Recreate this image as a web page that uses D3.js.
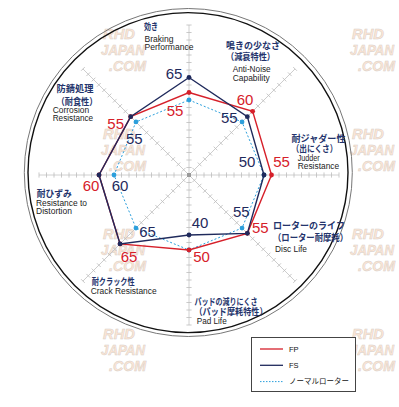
<!DOCTYPE html>
<html>
<head>
<meta charset="utf-8">
<script src="https://cdn.jsdelivr.net/npm/d3@7"></script>
<style>
  html, body { margin: 0; padding: 0; background: #fff; }
  svg { display: block; }
</style>
</head>
<body>
<div id="chart"></div>
<script>
// axes, clockwise from the top
var axisJa = [
  ["効き"],
  ["鳴きの少なさ", "（減衰特性）"],
  ["耐ジャダー性", "（出にくさ）"],
  ["ローターのライフ", "（ローター耐摩耗）"],
  ["パッドの減りにくさ", "（パッド摩耗特性）"],
  ["耐クラック性"],
  ["耐ひずみ"],
  ["防錆処理", "（耐食性）"]
];
var axisEn = [
  ["Braking", "Performance"],
  ["Anti-Noise", "Capability"],
  ["Judder", "Resistance"],
  ["Disc Life"],
  ["Pad Life"],
  ["Crack Resistance"],
  ["Resistance to", "Distortion"],
  ["Corrosion", "Resistance"]
];

var seriesNames = ["FP", "FS", "ノーマルローター"];
var fpValues     = [55, 60, 55, 55, 50, 65, 60, 55];
var fsValues     = [65, 55, 50, 55, 40, 65, 60, 55];
var normalValues = [50, 50, 50, 50, 50, 50, 50, 50];

var width = 399, height = 407;
var cx = 189, cy = 175, R = 150;
var red = "#d6202a", navy = "#1f2a5c", sky = "#2b9fdc";

var svg = d3.select("#chart").append("svg")
  .attr("width", width).attr("height", height);

// watermark tiles
var marks = svg.append("g").attr("font-family", "Liberation Sans, Arial, sans-serif")
  .attr("font-weight", "bold").attr("font-style", "italic")
  .attr("fill", "#fde6d4").attr("stroke", "#d6cfca").attr("stroke-width", 0.5);
[[101, 25], [350, 25], [101, 125], [350, 125], [101, 225], [350, 225], [101, 325], [350, 325]].forEach(function(p) {
  marks.append("text").attr("x", p[0] + 2).attr("y", p[1] + 14).attr("font-size", 15)
    .attr("textLength", 32).attr("lengthAdjust", "spacingAndGlyphs").text("RHD");
  marks.append("text").attr("x", p[0]).attr("y", p[1] + 30).attr("font-size", 15)
    .attr("textLength", 44).attr("lengthAdjust", "spacingAndGlyphs").text("JAPAN");
  marks.append("text").attr("x", p[0] + 8).attr("y", p[1] + 46).attr("font-size", 15)
    .attr("textLength", 37).attr("lengthAdjust", "spacingAndGlyphs").text(".COM");
});

// outer double ring
svg.append("circle").attr("cx", 188.3).attr("cy", 172.5).attr("r", 164)
  .attr("fill", "none").attr("stroke", "#777").attr("stroke-width", 1);
svg.append("circle").attr("cx", 188).attr("cy", 172.6).attr("r", 160)
  .attr("fill", "none").attr("stroke", "#111").attr("stroke-width", 1.4);

var r = d3.scaleLinear().domain([0, 100]).range([0, R]);
var angle = function(i) { return i * Math.PI / 4; };

var g = svg.append("g").attr("transform", "translate(" + cx + "," + cy + ")");

// spokes with tick marks every 5
var tickVals = d3.range(5, 101, 5);
axisJa.forEach(function(d, i) {
  var spoke = g.append("g").attr("transform", "rotate(" + (i * 45) + ")");
  spoke.append("line").attr("x1", 0).attr("y1", 0).attr("x2", 0).attr("y2", -r(100))
    .attr("stroke", "#c4c4c4").attr("stroke-width", 0.8);
  spoke.selectAll("line.tick").data(tickVals).enter().append("line")
    .attr("class", "tick")
    .attr("x1", -2.6).attr("x2", 2.6)
    .attr("y1", function(v) { return -r(v); }).attr("y2", function(v) { return -r(v); })
    .attr("stroke", "#bdbdbd").attr("stroke-width", 0.8);
});
g.append("rect").attr("x", -2).attr("y", -2).attr("width", 4).attr("height", 4).attr("fill", "#999");

var radial = d3.lineRadial()
  .angle(function(d, i) { return angle(i); })
  .radius(function(d) { return r(d); })
  .curve(d3.curveLinearClosed);

function drawSeries(values, color, dash, w) {
  g.append("path").attr("d", radial(values))
    .attr("fill", "none").attr("stroke", color).attr("stroke-width", w)
    .attr("stroke-dasharray", dash);
  g.selectAll(null).data(values).enter().append("circle")
    .attr("cx", function(d, i) { return d3.pointRadial(angle(i), r(d))[0]; })
    .attr("cy", function(d, i) { return d3.pointRadial(angle(i), r(d))[1]; })
    .attr("r", 2.4).attr("fill", color);
}
drawSeries(normalValues, sky, "2,2", 1);
drawSeries(fpValues, red, null, 1.4);
drawSeries(fsValues, navy, null, 1.4);

// value labels, offsets from their points
var fpOffsets = [[-14, 23.5], [-7.5, -6.5], [10, -8], [13, 0], [12.5, 12], [9, 18], [-8, 16], [-15, 12.5]];
var fsOffsets = [[-15, 1.5], [-18, 6], [-17, -8], [-6, -16], [11, -7.5], [27.5, -7], [21, 16], [3.6, 27]];
function drawLabels(values, offsets, color) {
  g.selectAll(null).data(values).enter().append("text")
    .attr("x", function(d, i) { return d3.pointRadial(angle(i), r(d))[0] + offsets[i][0]; })
    .attr("y", function(d, i) { return d3.pointRadial(angle(i), r(d))[1] + offsets[i][1]; })
    .attr("text-anchor", "middle")
    .attr("font-family", "Liberation Sans, Arial, sans-serif")
    .attr("font-size", 15).attr("fill", color)
    .text(function(d) { return d; });
}
drawLabels(fpValues, fpOffsets, red);
drawLabels(fsValues, fsOffsets, navy);

// axis captions: [x, first baseline, line step] for ja, then en
var captionPos = [
  { ja: [144, 30, 0],     jaW: [14],     en: [144.5, 41.5, 8.5], enW: [29, 49] },
  { ja: [226, 48.5, 11],  jaW: [54, 49], en: [232.7, 71.5, 9],   enW: [38, 37] },
  { ja: [291.5, 141.5, 10], jaW: [54, 46], en: [297.7, 160.5, 8], enW: [22, 41.5] },
  { ja: [273, 229, 12],   jaW: [72, 75], en: [275, 251.5, 0],    enW: [32] },
  { ja: [194.5, 305, 10], jaW: [63, 73], en: [196.7, 323.5, 0],  enW: [30] },
  { ja: [91.7, 285, 0],   jaW: [43],     en: [90.7, 294, 0],     enW: [66] },
  { ja: [36.7, 196.5, 0], jaW: [35],     en: [36, 206, 7.8],     enW: [51, 36] },
  { ja: [56.5, 91.5, 13], jaW: [37, 41], en: [52.7, 112.5, 8],   enW: [36.5, 40.5] }
];
axisJa.forEach(function(lines, i) {
  var p = captionPos[i];
  lines.forEach(function(t, k) {
    svg.append("text").attr("x", p.ja[0]).attr("y", p.ja[1] + k * p.ja[2])
      .attr("font-family", "Noto Sans CJK JP, sans-serif").attr("font-size", 9.5)
      .attr("font-weight", "bold").attr("fill", "#24346c")
      .attr("textLength", p.jaW[k]).attr("lengthAdjust", "spacingAndGlyphs")
      .text(t);
  });
  axisEn[i].forEach(function(t, k) {
    svg.append("text").attr("x", p.en[0]).attr("y", p.en[1] + k * p.en[2])
      .attr("font-family", "Liberation Sans, Arial, sans-serif").attr("font-size", 8.5)
      .attr("fill", "#222")
      .attr("textLength", p.enW[k]).attr("lengthAdjust", "spacingAndGlyphs")
      .text(t);
  });
});

// legend
var legend = svg.append("g");
legend.append("rect").attr("x", 251.5).attr("y", 337.5).attr("width", 104).attr("height", 54)
  .attr("fill", "#fff").attr("stroke", "#444").attr("stroke-width", 1);
var legendRows = [
  { color: red, dash: null, w: 1.3 },
  { color: navy, dash: null, w: 1.3 },
  { color: sky, dash: "1.5,1.5", w: 1 }
];
seriesNames.forEach(function(name, i) {
  var y = 349 + i * 16.3;
  legend.append("line").attr("x1", 260).attr("x2", 283).attr("y1", y).attr("y2", y)
    .attr("stroke", legendRows[i].color).attr("stroke-width", legendRows[i].w)
    .attr("stroke-dasharray", legendRows[i].dash);
  legend.append("text").attr("x", 289).attr("y", y + 2.6)
    .attr("font-family", i === 2 ? "Noto Sans CJK JP, sans-serif" : "Liberation Sans, Arial, sans-serif")
    .attr("font-size", 7.5).attr("fill", "#111")
    .text(name);
});
</script>
</body>
</html>
